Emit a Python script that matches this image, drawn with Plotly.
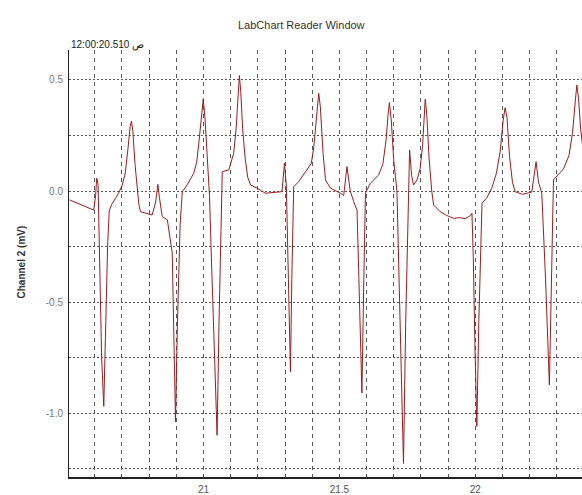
import plotly.graph_objects as go

time_s = [20.507, 20.525, 20.548, 20.575, 20.596, 20.603, 20.607, 20.612, 20.618, 20.625,
          20.633, 20.640, 20.647, 20.653, 20.662, 20.675, 20.6875, 20.701, 20.712, 20.722,
          20.730, 20.735, 20.740, 20.748, 20.756, 20.762, 20.768, 20.790, 20.811, 20.824,
          20.832, 20.838, 20.848, 20.867, 20.875, 20.885, 20.890, 20.897, 20.904, 20.914,
          20.922, 20.941, 20.964, 20.975, 20.984, 20.993, 20.999, 21.0055, 21.0136, 21.022,
          21.029, 21.039, 21.050, 21.057, 21.064, 21.069, 21.093, 21.111, 21.120, 21.127,
          21.132, 21.137, 21.144, 21.154, 21.163, 21.173, 21.197, 21.228, 21.265, 21.289,
          21.298, 21.305, 21.3125, 21.320, 21.325, 21.332, 21.349, 21.381, 21.397, 21.406,
          21.415, 21.424, 21.430, 21.440, 21.449, 21.467, 21.504, 21.516, 21.528, 21.540,
          21.553, 21.565, 21.572, 21.583, 21.590, 21.596, 21.614, 21.6445, 21.660, 21.672,
          21.679, 21.684, 21.691, 21.700, 21.712, 21.7225, 21.736, 21.744, 21.752, 21.7585,
          21.766, 21.773, 21.786, 21.797, 21.806, 21.812, 21.816, 21.822, 21.830, 21.840,
          21.847, 21.871, 21.895, 21.920, 21.945, 21.963, 21.983, 21.988, 21.993, 21.999,
          22.006, 22.013, 22.020, 22.025, 22.043, 22.061, 22.078, 22.092, 22.103, 22.110,
          22.117, 22.126, 22.137, 22.147, 22.173, 22.208, 22.224, 22.233, 22.245, 22.259,
          22.273, 22.280, 22.288, 22.310, 22.325, 22.345, 22.358, 22.368, 22.374, 22.380,
          22.388, 22.400]
channel2_mv = [-0.04, -0.05, -0.06, -0.075, -0.086, -0.02, 0.058, 0.03, -0.3, -0.75,
               -0.97, -0.6, -0.25, -0.09, -0.06, -0.035, -0.01, 0.027, 0.08, 0.19,
               0.29, 0.315, 0.27, 0.12, 0.02, -0.06, -0.093, -0.10, -0.108, -0.05,
               0.03, -0.03, -0.115, -0.13, -0.2, -0.28, -0.6, -1.04, -0.6, -0.15,
               -0.003, 0.03, 0.08, 0.13, 0.23, 0.35, 0.413, 0.33, 0.14, -0.02,
               -0.3, -0.7, -1.10, -0.6, -0.1, 0.087, 0.095, 0.17, 0.28, 0.43,
               0.52, 0.45, 0.28, 0.14, 0.06, 0.027, 0.013, -0.01, -0.005, -0.003,
               0.126, 0.02, -0.4, -0.814, -0.4, 0.02, 0.04, 0.10, 0.125, 0.2,
               0.33, 0.44, 0.38, 0.17, 0.05, 0.013, -0.01, -0.02, 0.11, 0.0,
               -0.048, -0.086, -0.4, -0.91, -0.4, -0.01, 0.035, 0.072, 0.12, 0.23,
               0.34, 0.398, 0.32, 0.14, 0.0, -0.5, -1.227, -0.6, -0.1, 0.185,
               0.07, 0.027, 0.05, 0.1, 0.2, 0.34, 0.413, 0.34, 0.15, 0.0,
               -0.063, -0.093, -0.11, -0.123, -0.12, -0.125, -0.11, -0.10, -0.3, -0.7,
               -1.06, -0.6, -0.2, -0.055, -0.03, 0.013, 0.08, 0.18, 0.32, 0.375,
               0.33, 0.16, 0.04, -0.003, -0.015, -0.005, 0.132, 0.04, -0.01, -0.4,
               -0.874, -0.4, 0.05, 0.08, 0.10, 0.16, 0.26, 0.40, 0.477, 0.42,
               0.28, 0.15]

x_grid = [20.6, 20.7, 20.8, 20.9, 21.0, 21.1, 21.2, 21.3, 21.4, 21.5,
          21.6, 21.7, 21.8, 21.9, 22.0, 22.1, 22.2, 22.3]
x_labels = ["", "", "", "", "21", "", "", "", "", "21.5",
            "", "", "", "", "22", "", "", ""]
y_grid = [0.5, 0.25, 0.0, -0.25, -0.5, -0.75, -1.0, -1.25]
y_labels = ["0.5", "", "0.0", "", "-0.5", "", "-1.0", ""]

FONT = "Liberation Sans"
W, H = 582, 495
L, T, R, B = 69, 50, 0, 18
pw = W - L - R
ph = H - T - B


def px_to_paper_x(px):
    return (px - L) / pw


def py_to_paper_y(py):
    return (H - B - py) / ph


fig = go.Figure()
fig.add_trace(go.Scatter(x=time_s, y=channel2_mv, mode="lines",
                         line=dict(color="#9e1b1b", width=1), showlegend=False))

fig.update_layout(
    width=W, height=H,
    margin=dict(l=L, r=R, t=T, b=B, autoexpand=False),
    paper_bgcolor="white", plot_bgcolor="white",
    font=dict(family=FONT, size=10, color="#555555"),
    xaxis=dict(range=[20.505, 22.393], tickmode="array", tickvals=x_grid, ticktext=x_labels,
               showgrid=True, gridcolor="#555555", gridwidth=1, griddash="4px,4px",
               showline=True, linecolor="#222222", linewidth=2, zeroline=False, automargin=False,
               ticks="", ticklabelstandoff=2, tickfont=dict(size=10, color="#555555")),
    yaxis=dict(range=[-1.288, 0.635], tickmode="array", tickvals=y_grid, ticktext=y_labels,
               showgrid=True, gridcolor="#555555", gridwidth=1, griddash="2px,2px",
               showline=True, linecolor="#222222", linewidth=1, zeroline=False, automargin=False,
               ticks="", ticklabelstandoff=3, tickfont=dict(size=10, color="#777777")),
    annotations=[
        dict(text="LabChart Reader Window", x=px_to_paper_x(301), y=py_to_paper_y(17),
             xref="paper", yref="paper",
             showarrow=False, font=dict(size=11, color="#333333", family=FONT)),
        dict(text="12:00:20.510 ص", x=px_to_paper_x(69), y=py_to_paper_y(45),
             xref="paper", yref="paper", xanchor="left", yanchor="middle", showarrow=False,
             font=dict(size=10, color="#222222", family=FONT)),
        dict(text="<b>Channel 2 (mV)</b>", x=px_to_paper_x(13), y=py_to_paper_y(262),
             xref="paper", yref="paper",
             showarrow=False, textangle=-90, font=dict(size=10, color="#333333", family=FONT)),
    ],
)

fig.write_html("out.html", config={"displayModeBar": False},
               post_script="document.body.style.margin='0';document.body.style.overflow='hidden';")
